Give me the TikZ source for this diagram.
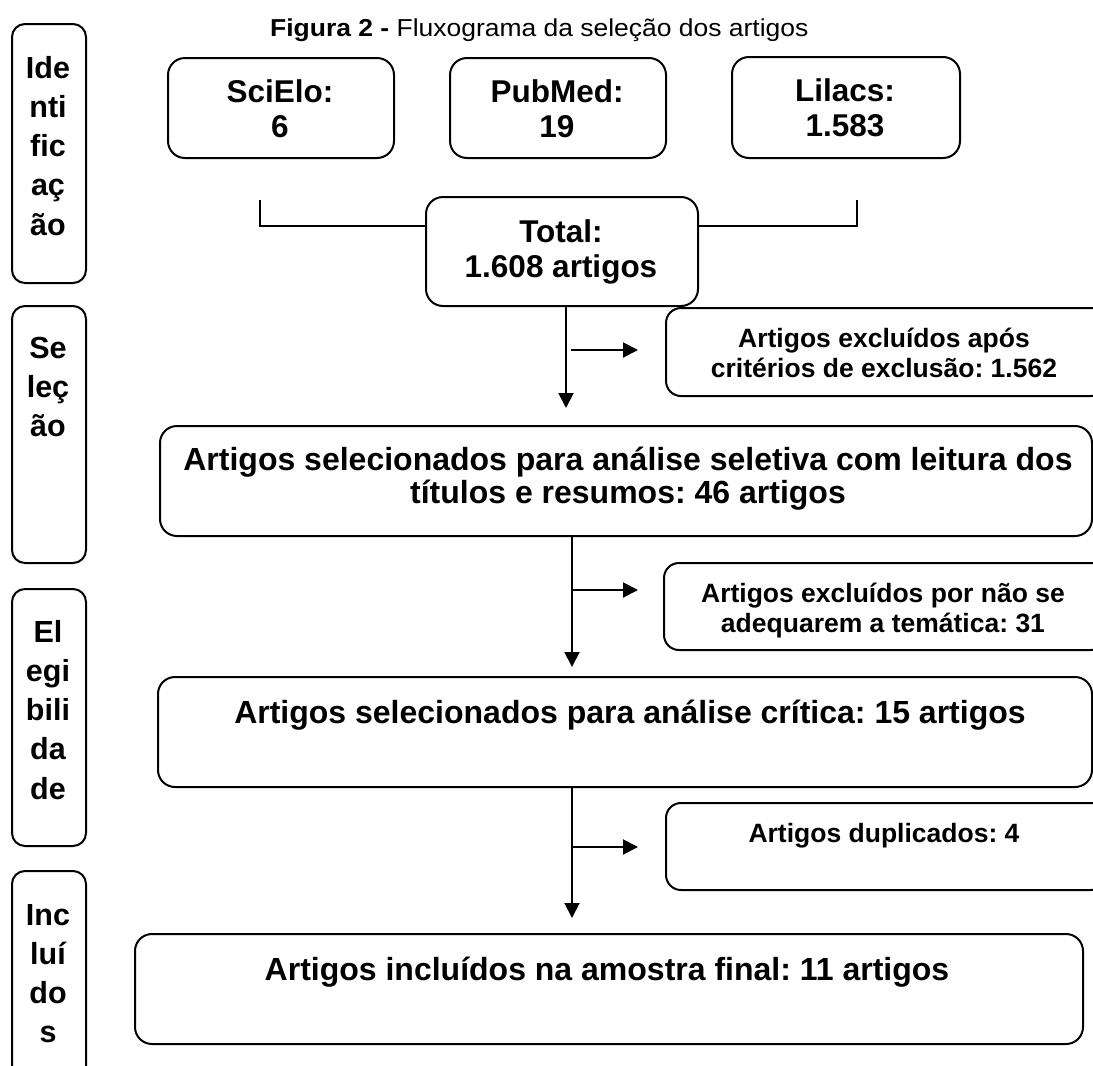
\documentclass[tikz,border=0pt]{standalone}
\usepackage{graphicx}
\usepackage{fontspec}
\setmainfont{Liberation Sans}
\usetikzlibrary{calc,arrows.meta}
\newcommand{\ml}[1]{\begin{tabular}[t]{@{}c@{}}#1\end{tabular}}
\frenchspacing
\begin{document}
\begin{tikzpicture}[x=1pt,y=-1pt,
  box/.style={draw, line width=2pt, rounded corners=17pt, inner sep=0pt, anchor=north west, fill=white},
  colbox/.style={box, rounded corners=13pt, minimum width=74pt},
  exbox/.style={box, rounded corners=15pt},
  lbl/.style={anchor=base, inner sep=0pt, font=\bfseries},
  coltext/.style={lbl, font=\fontsize{30.5}{39.3}\selectfont\bfseries},
  dbtext/.style={lbl, font=\fontsize{31.5}{35.5}\selectfont\bfseries},
  bigtext/.style={lbl, font=\fontsize{32}{32}\selectfont\bfseries},
  extext/.style={lbl, font=\fontsize{26.5}{30}\selectfont\bfseries},
  conn/.style={line width=2pt},
  arr/.style={line width=2pt, -{Triangle[length=15pt,width=15pt]}}
]
\useasboundingbox (0,0) rectangle (1093,1066);
\clip (0,0) rectangle (1093,1066);

% title
\node[anchor=base west, inner sep=0pt] (title) at (270,36)
  {\scalebox{1.08}[1]{\fontsize{24.5}{28}\selectfont\textbf{Figura 2 -} Fluxograma da seleção dos artigos}};

% left column
\node[colbox, minimum height=259pt] (id) at (11,23) {};
\node[coltext] (idt) at (48,78) {\ml{Ide\\nti\\fic\\aç\\ão}};
\node[colbox, minimum height=257pt] (sel) at (11,305) {};
\node[coltext] (selt) at (48,358) {\ml{Se\\leç\\ão}};
\node[colbox, minimum height=257pt] (ele) at (11,588) {};
\node[coltext] (elet) at (48,642) {\ml{El\\egi\\bili\\da\\de}};
\node[colbox, minimum height=230pt] (inc) at (11,870) {};
\node[coltext] (inct) at (48,925) {\ml{Inc\\luí\\do\\s}};

% databases
\node[box, minimum width=226pt, minimum height=100pt] (scielo) at (167,57) {};
\node[dbtext] (scielot) at (280,102) {\ml{SciElo:\\6}};
\node[box, minimum width=216pt, minimum height=100pt] (pubmed) at (449,57) {};
\node[dbtext] (pubmedt) at (557,102) {\ml{PubMed:\\19}};
\node[box, minimum width=228pt, minimum height=101pt] (lilacs) at (731,56) {};
\node[dbtext] (lilacst) at (845,101) {\ml{Lilacs:\\1.583}};

% bracket + total
\coordinate (brL) at (260,200);
\coordinate (brR) at (857,200);
\node[box, minimum width=272pt, minimum height=109pt] (total) at (425,196) {};
\node[dbtext] (totalt) at (561,242) {\ml{Total:\\1.608 artigos}};
\draw[conn] (brL) |- ($(total.north west)+(0,30)$);
\draw[conn] (brR) |- ($(total.north east)+(0,30)$);

% exclusion 1
\node[exbox, minimum width=440pt, minimum height=88pt] (ex1) at (665,307) {};
\node[extext] (ex1t) at (884,347) {\ml{Artigos excluídos após\\critérios de exclusão: 1.562}};

% box 2
\node[box, minimum width=932pt, minimum height=110pt] (box2) at (159,425) {};
\node[bigtext] (box2t) at (628,470) {\ml{Artigos selecionados para análise seletiva com leitura dos\\títulos e resumos: 46 artigos}};

% exclusion 2
\node[exbox, minimum width=442pt, minimum height=87pt] (ex2) at (663,562) {};
\node[extext] (ex2t) at (883,602) {\ml{Artigos excluídos por não se\\adequarem a temática: 31}};

% box 3
\node[box, minimum width=934pt, minimum height=110pt] (box3) at (157,676) {};
\node[bigtext] (box3t) at (630,723) {Artigos selecionados para análise crítica: 15 artigos};

% exclusion 3
\node[exbox, minimum width=440pt, minimum height=87pt] (ex3) at (665,802) {};
\node[extext] (ex3t) at (884,842) {Artigos duplicados: 4};

% final
\node[box, minimum width=948pt, minimum height=110pt] (final) at (134,933) {};
\node[bigtext] (finalt) at (607,980) {Artigos incluídos na amostra final: 11 artigos};

% connectors
\coordinate (v1) at (566,0);
\coordinate (v2) at (572,0);
\draw[arr] (total.south -| v1) -- ($(box2.north -| v1)+(0,-17)$);
\coordinate (s1) at (571,350);
\draw[arr] (s1) -- ($(s1 -| ex1.west)+(-27,0)$);

\draw[arr] (box2.south -| v2) -- ($(box3.north -| v2)+(0,-9)$);
\coordinate (s2) at (572,590);
\draw[arr] (s2) -- ($(s2 -| ex2.west)+(-25,0)$);

\draw[arr] (box3.south -| v2) -- ($(final.north -| v2)+(0,-15)$);
\coordinate (s3) at (572,847);
\draw[arr] (s3) -- ($(s3 -| ex3.west)+(-27,0)$);
\end{tikzpicture}
\end{document}
